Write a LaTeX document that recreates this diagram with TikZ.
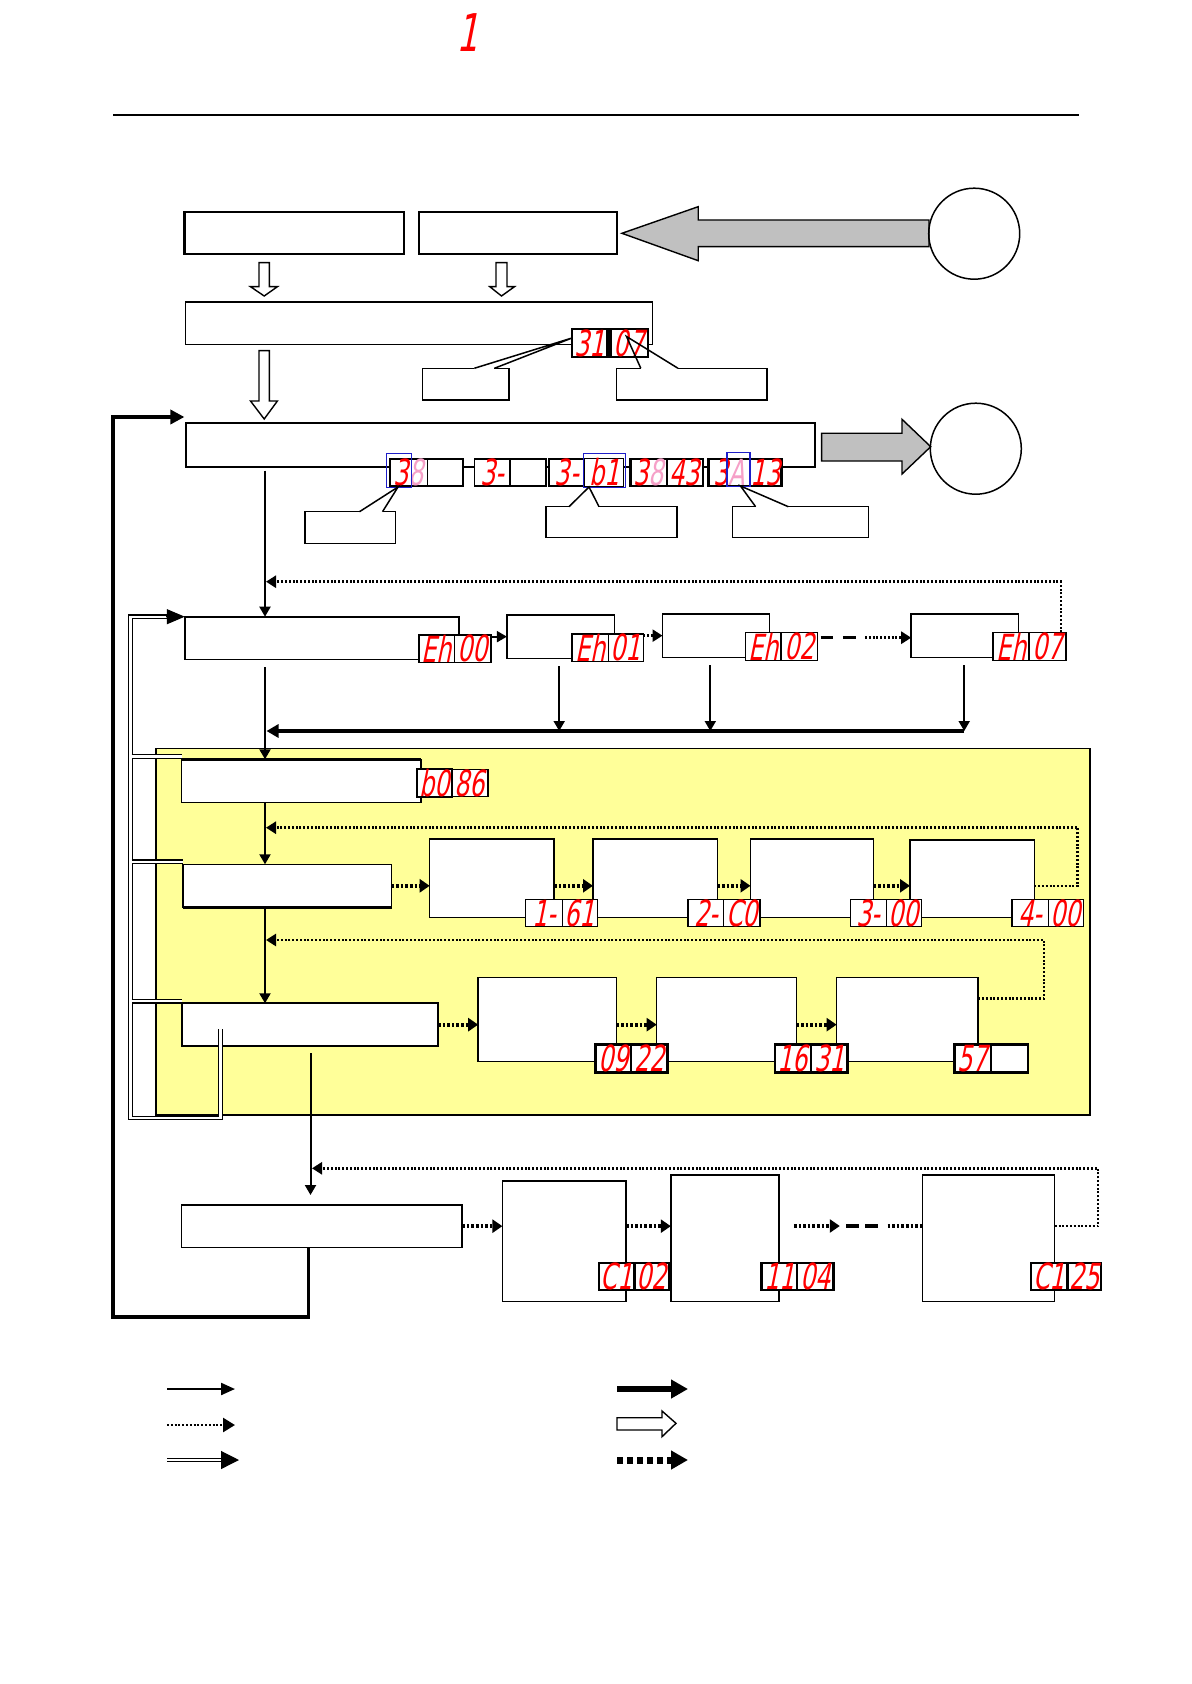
\documentclass[tikz,border=0pt]{standalone}
\usepackage{fontspec}
\usetikzlibrary{arrows.meta}
\newfontfamily\segfont{DejaVu Sans}[FakeSlant=0.2,FakeStretch=0.66]
\definecolor{segred}{RGB}{255,0,0}
\definecolor{segpink}{RGB}{246,160,200}
\definecolor{yell}{RGB}{255,255,153}
\definecolor{garr}{RGB}{192,192,192}
\definecolor{bluebox}{RGB}{30,30,200}
\newcommand\pk[1]{\textcolor{segpink}{#1}}
% [opts]{name}{x1}{y1}{x2}{y2}{text}
\newcommand\bx[6][]{%
  \pgfmathsetmacro\bw{(#5-(#3))*0.5}%
  \pgfmathsetmacro\bh{(#6-(#4))*0.5}%
  \node[box,minimum width=\bw pt,minimum height=\bh pt,#1] (#2) at ({(#3+#5)/2},{(#4+#6)/2})}
% [opts]{name}{x1}{y1}{xs}{x2}{y2}{left}{right}
\newcommand\dsp[9][]{%
  \bx[cell,#1]{#2-l}{#3}{#4}{#5}{#7} {#8};
  \bx[cell,#1]{#2-r}{#5}{#4}{#6}{#7} {#9};}
\begin{document}
\begin{tikzpicture}[x=0.5pt,y=-0.5pt,
  box/.style={draw,fill=white,line width=0.75pt,inner sep=0pt,outer sep=0pt},
  thk/.style={line width=1.1pt},
  cell/.style={draw,fill=white,line width=0.75pt,inner sep=0pt,outer sep=0pt,
    font=\segfont\fontsize{18}{18}\selectfont,text=segred},
  tcell/.style={line width=1.2pt},
  circ/.style={draw,circle,line width=0.75pt,minimum size=45.5pt,inner sep=0pt},
  sarr/.style={line width=1pt,-{Triangle[length=5pt,width=5.5pt]}},
  busarr/.style={line width=1.6pt,-{Triangle[length=6pt,width=6.5pt]}},
  darr/.style={line width=1.3pt,dash pattern=on 1pt off 0.9pt,-{Triangle[length=5pt,width=6pt]}},
  dline/.style={line width=1.3pt,dash pattern=on 1pt off 0.9pt},
  bdarr/.style={line width=2pt,dash pattern=on 1.3pt off 1pt,-{Triangle[length=5pt,width=6.5pt]}},
  bdline/.style={line width=2pt,dash pattern=on 1.3pt off 1pt},
  dashseg/.style={line width=1.6pt,dash pattern=on 6.3pt off 4.8pt},
  loopl/.style={line width=1.8pt},
  dbl/.style={double,double distance=1.2pt,line width=0.6pt},
  holl/.style={draw,fill=white,line width=0.7pt},
  garrow/.style={draw,fill=garr,line width=0.7pt},
  callout/.style={draw,fill=white,line width=0.75pt},
  blueb/.style={draw=bluebox,line width=0.7pt}]
\useasboundingbox (0,0) rectangle (1191,1684);

% page marker and rule
\node[text=segred,font=\segfont\fontsize{26}{26}\selectfont,inner sep=0pt] (pgnum) at (467,33) {1};
\coordinate (hl1) at (113,115); \coordinate (hl2) at (1079,115);
\draw[line width=1.2pt] (hl1) -- (hl2);

% ---------- top part ----------
\bx[thk]{A}{184.4}{211.7}{404.3}{254} {};
\bx[thk]{B}{418.7}{211.7}{616.7}{254} {};
\draw[garrow] (929,220) -- (698.2,220) -- (698.2,206.7) -- (621.9,233.3) -- (698.2,260.7) -- (698.2,246.7) -- (929,246.7) -- cycle;
\node[circ] (c1) at (974.2,233.7) {};
\draw[holl] (259,262.7) -- (269.4,262.7) -- (269.4,286.7) -- (277.4,286.7) -- (264.2,296) -- (250.5,286.7) -- (259,286.7) -- cycle;
\draw[holl] (496,262.7) -- (507,262.7) -- (507,286.7) -- (514.5,286.7) -- (501.5,296) -- (489.8,286.7) -- (496,286.7) -- cycle;
\bx{C}{185.6}{301.7}{652.3}{344.3} {};
\draw[line width=1.1pt] (C.north west) -- (C.north east);
\draw[holl] (259,350.7) -- (269.4,350.7) -- (269.4,401) -- (277.4,401) -- (264.2,419) -- (250.5,401) -- (259,401) -- cycle;

% callouts near C
\bx[callout]{co1}{422.7}{368.3}{508.8}{400} {};
\bx[callout]{co2}{616.7}{368.3}{767}{400} {};
\coordinate (p1a) at (474.3,368.3); \coordinate (p1b) at (494.4,368.3); \coordinate (t1) at (572,338);
\coordinate (p2a) at (640.8,368.3); \coordinate (p2b) at (678,368.3); \coordinate (t2) at (626.5,336.5);
\draw[white,line width=1.3pt] (p1a) -- (p1b);
\draw[white,line width=1.3pt] (p2a) -- (p2b);
\bx[cell,tcell]{d31}{572}{329}{607.5}{357.3} {31};
\bx[cell,tcell]{d07}{610.4}{329}{647.7}{357.3} {07};
\draw[line width=0.75pt] (p1a) -- (t1) -- (p1b);
\draw[line width=0.75pt] (p2a) -- (t2) -- (p2b);

% ---------- box D ----------
\bx[line width=0.9pt]{D}{185.6}{423.3}{814.8}{466.7} {};
\draw[garrow] (821.6,433.3) -- (902,433.3) -- (902,419.3) -- (930.7,446.7) -- (902,474) -- (902,461) -- (821.6,461) -- cycle;
\node[circ] (c2) at (975.8,448.7) {};
\bx[callout]{co3}{305}{511.7}{395.7}{543.3} {};
\bx[callout]{co4}{546}{506.7}{677}{537.7} {};
\bx[callout]{co5}{732.7}{506.7}{868.7}{537.7} {};
\coordinate (p3a) at (359.5,511.7); \coordinate (p3b) at (382.5,511.7); \coordinate (t3) at (398,487);
\coordinate (p4a) at (569,506.7); \coordinate (p4b) at (599,506.7); \coordinate (t4) at (589,487);
\coordinate (p5a) at (755.6,506.7); \coordinate (p5b) at (788.3,506.7); \coordinate (t5) at (740.5,486);
\draw[white,line width=1.3pt] (p3a) -- (p3b);
\draw[white,line width=1.3pt] (p4a) -- (p4b);
\draw[white,line width=1.3pt] (p5a) -- (p5b);
\dsp{g1}{390}{459}{427.3}{462.9}{486}{3\pk{8}}{}
\dsp{g2}{474.3}{459}{510}{546}{486}{3-}{}
\dsp{g3}{549}{459}{584.6}{623.6}{486}{3-}{b1}
\dsp[tcell]{g4}{630.5}{459}{666.7}{702.8}{486}{3\pk{8}}{43}
\dsp[tcell]{g5}{708.5}{459}{749.9}{781.5}{486}{3\pk{A}}{13}
\draw[blueb] (386.5,453.3) rectangle (411.2,487.3);
\draw[blueb] (583.4,453.3) rectangle (625.3,487.3);
\draw[blueb] (727,452.3) rectangle (749.9,486.5);
\draw[line width=0.75pt] (p3a) -- (t3) -- (p3b);
\draw[line width=0.75pt] (p4a) -- (t4) -- (p4b);
\draw[line width=0.75pt] (p5a) -- (t5) -- (p5b);

% ---------- row E ----------
\bx{E}{184.8}{616.7}{459}{659.3} {};
\draw[line width=1.2pt] (E.north west) -- (E.north east);
\bx{F}{506.9}{615}{614.7}{658.3} {};
\bx{G}{662.5}{614}{769.6}{657.3} {};
\bx{H}{911.2}{614}{1018.4}{657.3} {};
\dsp{Eh00}{418.9}{635}{454.6}{491}{662.3}{Eh}{00}
\dsp{Eh01}{572}{634}{608.3}{643.4}{661.7}{Eh}{01}
\dsp{Eh02}{745.4}{632.3}{781.1}{817.5}{660.7}{Eh}{02}
\dsp{Eh07}{992.9}{632.3}{1029.2}{1066.2}{660.7}{Eh}{07}
\draw[sarr] (Eh00-r.east |- F.west) -- (F.west);
\draw[darr] (Eh01-r.east |- G.west) -- (G.west);
\coordinate (e2a) at (820.7,637.7); \coordinate (e2b) at (855.7,637.7); \coordinate (e2c) at (865,637.7);
\draw[dashseg] (e2a) -- (e2b);
\draw[darr] (e2c) -- (e2c -| H.west);
% vertical main flow
\coordinate (vx) at (265,0);
\draw[sarr] ([yshift=-2pt]D.south -| vx) -- (E.north -| vx);
\coordinate (fb1) at (1061,581.7); \coordinate (fb1e) at (266,581.7);
\draw[darr] (Eh07-r.north -| fb1) -- (fb1) -- (fb1e);
\coordinate (fx) at (559.2,0); \coordinate (gx) at (710.3,0); \coordinate (hx) at (964.2,0);
\coordinate (busR) at (964.2,731); \coordinate (busL) at (266.5,731);
\draw[sarr] ([yshift=-4pt]F.south -| fx) -- (busR -| fx);
\draw[sarr] ([yshift=-4pt]G.south -| gx) -- (busR -| gx);
\draw[sarr] ([yshift=-4pt]H.south -| hx) -- (busR);
\draw[busarr] (busR) -- (busL);

% ---------- yellow region ----------
\draw[fill=yell,line width=0.6pt] (156,748.3) rectangle (1090,1115);
\bx{I}{181.6}{759.3}{420.8}{802.3} {};
\draw[line width=1.2pt] (I.north west) -- (I.north east);
\dsp{b086}{417}{769.3}{452}{487.8}{796.7}{b0}{86}
\draw[sarr] ([yshift=-4pt]E.south -| vx) -- (I.north -| vx);

\bx{J}{183}{864.3}{391.5}{907.3} {};
\draw[line width=1.2pt] (J.south west) -- (J.south east);
\bx{K}{429.7}{839}{554}{917.3} {};
\bx{L}{593}{839}{717.3}{917.3} {};
\bx{M}{750.5}{839}{873.6}{917.3} {};
\bx{N}{910}{840}{1034.3}{917.3} {};
\draw[line width=1.2pt] (N.north west) -- (N.north east);
\dsp{d161}{525.4}{899.3}{562.4}{597.4}{926.7}{1-}{61}
\dsp{d2C0}{688}{899.3}{723.7}{760}{926.7}{2-}{C0}
\dsp{d300}{850.6}{899.3}{886.3}{921.4}{926.7}{3-}{00}
\dsp{d400}{1012}{899.3}{1048.3}{1083.4}{926.7}{4-}{00}
\draw[sarr] (I.south -| vx) -- (J.north -| vx);
\draw[bdarr] (J.east) -- (J.east -| K.west);
\draw[bdarr] (J.east -| K.east) -- (J.east -| L.west);
\draw[bdarr] (J.east -| L.east) -- (J.east -| M.west);
\draw[bdarr] (J.east -| M.east) -- (J.east -| N.west);
\coordinate (fb2) at (1077.7,827.7); \coordinate (fb2e) at (266,827.7);
\draw[darr] (J.east -| N.east) -- (J.east -| fb2) -- (fb2) -- (fb2e);

\bx[line width=1.1pt]{O}{181.6}{1003.3}{438}{1046} {};
\bx{P}{478.2}{977.3}{616.6}{1061.7} {};
\bx{Q}{656.7}{977.3}{796.4}{1061.7} {};
\bx{R}{836.6}{977.3}{978.2}{1061.7} {};
\dsp[tcell]{d0922}{595.5}{1044.3}{631}{667.6}{1072.3}{09}{22}
\dsp[tcell]{d1631}{774.7}{1044.3}{811.1}{847.4}{1072.3}{16}{31}
\dsp[tcell]{d57}{954.6}{1044.3}{991}{1028}{1072.3}{57}{}
\draw[sarr] (J.south -| vx) -- (O.north -| vx);
\draw[bdarr] (O.east) -- (O.east -| P.west);
\draw[bdarr] (O.east -| P.east) -- (O.east -| Q.west);
\draw[bdarr] (O.east -| Q.east) -- (O.east -| R.west);
\coordinate (fb3a) at (978.2,998.3); \coordinate (fb3) at (1044,940); \coordinate (fb3e) at (266,940);
\draw[darr] (fb3a) -- (fb3a -| fb3) -- (fb3) -- (fb3e);

% double-line return path
\coordinate (dA) at (220.5,1029); \coordinate (dB) at (220.5,1118); \coordinate (dC) at (130.3,1118);
\coordinate (dD) at (130.3,616.7); \coordinate (dE) at (168,616.7);
\draw[dbl] (dA) -- (dB) -- (dC) -- (dD) -- (dE);
\draw[line width=0.6pt,-{Triangle[length=9pt,width=7.5pt]}] (166,616.7) -- (E.north west);
\draw[dbl] (131.6,756.6) -- (I.north west |- 0,756.6);
\draw[dbl] (131.6,861.8) -- (J.north west |- 0,861.8);
\draw[dbl] (131.6,1001.2) -- (O.north west |- 0,1001.2);

% ---------- row S ----------
\bx{S}{181.6}{1205}{462.2}{1247.3} {};
\draw[line width=1.2pt] (S.north west) -- (S.north east);
\bx{T}{502.4}{1181}{626}{1301.7} {};
\bx{U}{670.8}{1175}{779.2}{1301.7} {};
\bx{V}{922.7}{1175}{1054.7}{1301.7} {};
\dsp[tcell]{dC102}{598.7}{1262.7}{634.4}{669.5}{1290}{C1}{02}
\dsp[tcell]{d1104}{761.4}{1262.7}{797}{833.4}{1290}{11}{04}
\dsp[tcell]{dC125}{1031}{1262.7}{1067.5}{1101}{1290}{C1}{25}
\coordinate (sx) at (310.5,0);
\draw[sarr] ([yshift=-3.5pt]O.south -| sx) -- ([yshift=5pt]S.north -| sx);
\draw[bdarr] (S.east) -- (S.east -| T.west);
\draw[bdarr] (S.east -| T.east) -- (S.east -| U.west);
\coordinate (uv1) at (793.9,1226); \coordinate (uv2) at (839.8,1226);
\coordinate (uv3) at (846,1226); \coordinate (uv4) at (878,1226);
\coordinate (uv5) at (887.6,1226);
\draw[bdarr] (uv1) -- (uv2);
\draw[line width=1.8pt,dash pattern=on 6.5pt off 3pt] (uv3) -- (uv4);
\draw[bdline] (uv5) -- (uv5 -| V.west);
\coordinate (fb4) at (1098,1168.3); \coordinate (fb4e) at (312,1168.3);
\draw[darr] (S.east -| V.east) -- (S.east -| fb4) -- (fb4) -- (fb4e);

% thick outer loop
\coordinate (lx) at (308.5,0); \coordinate (lb) at (308.5,1316.7); \coordinate (lbl) at (112.8,1316.7);
\coordinate (ltl) at (112.8,417); \coordinate (lend) at (184.4,417);
\draw[loopl,-{Triangle[length=7pt,width=7pt]}] (S.south -| lx) -- (lb) -- (lbl) -- (ltl) -- (lend);

% ---------- legend ----------
\coordinate (l1a) at (167,1389); \coordinate (l1b) at (235,1389);
\coordinate (l2a) at (167,1425); \coordinate (l2b) at (235,1425);
\coordinate (l3a) at (167,1460); \coordinate (l3b) at (226,1460); \coordinate (l3c) at (239,1460);
\coordinate (r1a) at (617,1389); \coordinate (r1b) at (688,1389);
\coordinate (r3a) at (617,1460); \coordinate (r3b) at (688,1460);
\draw[line width=1.1pt,-{Triangle[length=7pt,width=6pt]}] (l1a) -- (l1b);
\draw[line width=1.3pt,dash pattern=on 1pt off 0.9pt,-{Triangle[length=6pt,width=7pt]}] (l2a) -- (l2b);
\draw[dbl] (l3a) -- (l3b);
\draw[line width=0.6pt,-{Triangle[length=9pt,width=9pt]}] (224,1460) -- (l3c);
\draw[line width=3pt,-{Triangle[length=8.5pt,width=9pt]}] (r1a) -- (r1b);
\draw[holl] (617,1417.7) -- (662,1417.7) -- (662,1411) -- (676,1423.3) -- (662,1436.7) -- (662,1430) -- (617,1430) -- cycle;
\draw[line width=3.5pt,dash pattern=on 3pt off 2pt,-{Triangle[length=8.5pt,width=9pt]}] (r3a) -- (r3b);
\end{tikzpicture}
\end{document}
